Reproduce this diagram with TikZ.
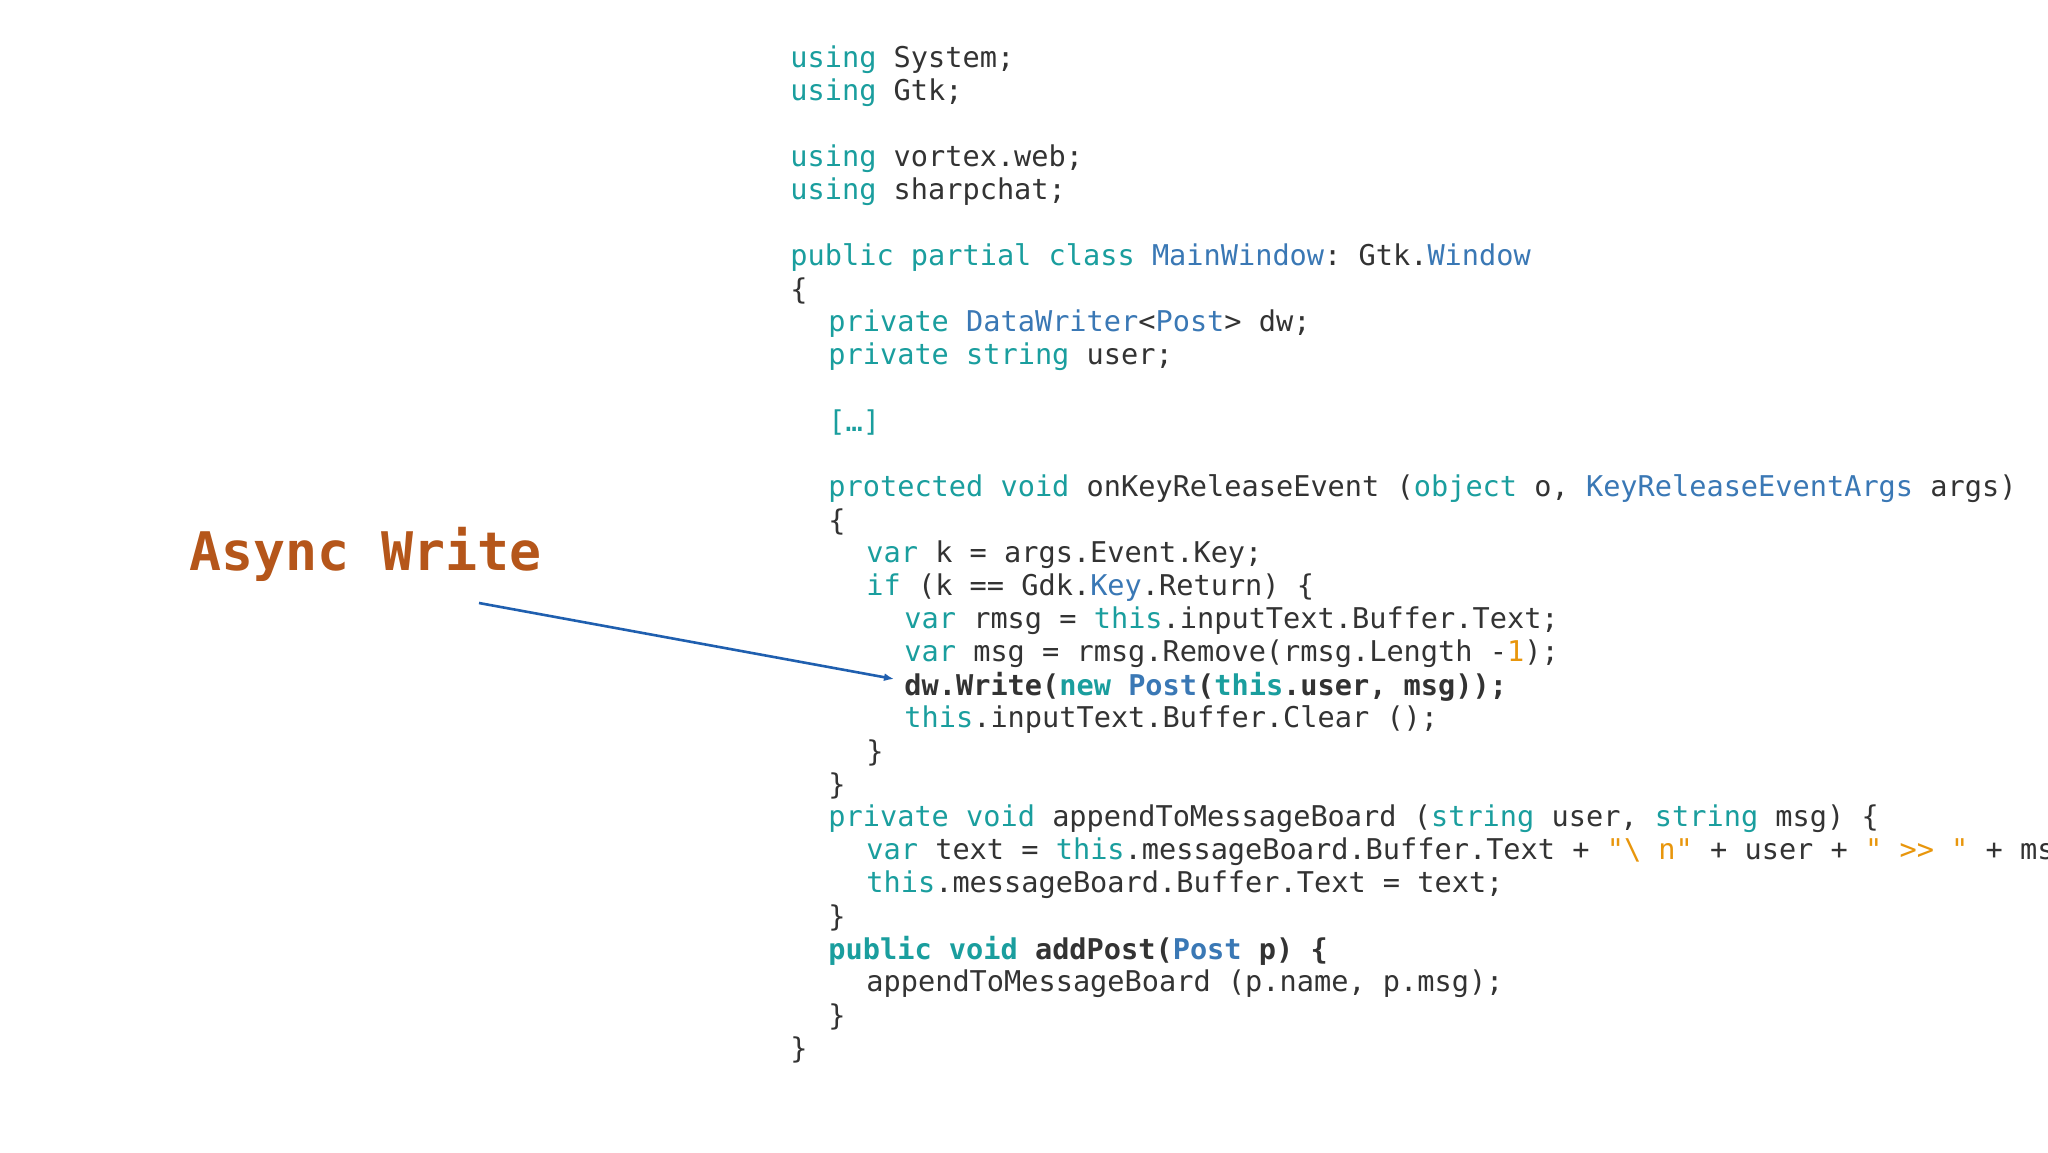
\documentclass[tikz,border=0pt]{standalone}
\usepackage{fontspec}
\usetikzlibrary{arrows.meta}
\setmainfont{DejaVu Sans Mono}
\setmonofont{DejaVu Sans Mono}
\definecolor{kw}{HTML}{1A9E9E}
\definecolor{ty}{HTML}{3A78B5}
\definecolor{tx}{HTML}{333333}
\definecolor{sr}{HTML}{E8960C}
\definecolor{ttl}{HTML}{B5561A}
\definecolor{arr}{HTML}{1F5FAF}
\newcommand{\kw}[1]{\textcolor{kw}{#1}}
\newcommand{\ty}[1]{\textcolor{ty}{#1}}
\newcommand{\sr}[1]{\textcolor{sr}{#1}}
\tikzset{cl/.style={anchor=west,inner sep=0pt,text=tx,font=\fontsize{14.3pt}{16pt}\selectfont\ttfamily}}
\newcommand{\cl}[4]{\node[cl] (#1) at ({790+#3*38},{-(60+#2*33)}) {#4};}
\begin{document}
\begin{tikzpicture}[x=0.5pt,y=0.5pt]
\useasboundingbox (0,0) rectangle (2048,-1152);
\clip (0,0) rectangle (2048,-1152);
\fill[white] (0,0) rectangle (2048,-1152);
\cl{l0}{0}{0}{\kw{using} System;}
\cl{l1}{1}{0}{\kw{using} Gtk;}
\cl{l3}{3}{0}{\kw{using} vortex.web;}
\cl{l4}{4}{0}{\kw{using} sharpchat;}
\cl{l6}{6}{0}{\kw{public partial class} \ty{MainWindow}: Gtk.\ty{Window}}
\cl{l7}{7}{0}{\{}
\cl{l8}{8}{1}{\kw{private} \ty{DataWriter}<\ty{Post}> dw;}
\cl{l9}{9}{1}{\kw{private string} user;}
\cl{l11}{11}{1}{\kw{[…]}}
\cl{l13}{13}{1}{\kw{protected void} onKeyReleaseEvent (\kw{object} o, \ty{KeyReleaseEventArgs} args)}
\cl{l14}{14}{1}{\{}
\cl{l15}{15}{2}{\kw{var} k = args.Event.Key;}
\cl{l16}{16}{2}{\kw{if} (k == Gdk.\ty{Key}.Return) \{}
\cl{l17}{17}{3}{\kw{var} rmsg = \kw{this}.inputText.Buffer.Text;}
\cl{l18}{18}{3}{\kw{var} msg = rmsg.Remove(rmsg.Length -\sr{1});}
\cl{l19}{19}{3}{\bfseries dw.Write(\kw{new} \ty{Post}(\kw{this}.user, msg));}
\cl{l20}{20}{3}{\kw{this}.inputText.Buffer.Clear ();}
\cl{l21}{21}{2}{\}}
\cl{l22}{22}{1}{\}}
\cl{l23}{23}{1}{\kw{private void} appendToMessageBoard (\kw{string} user, \kw{string} msg) \{}
\cl{l24}{24}{2}{\kw{var} text = \kw{this}.messageBoard.Buffer.Text + \sr{"\textbackslash{} n"} + user + \sr{" >> "} + msg;}
\cl{l25}{25}{2}{\kw{this}.messageBoard.Buffer.Text = text;}
\cl{l26}{26}{1}{\}}
\cl{l27}{27}{1}{\bfseries\kw{public void} addPost(\ty{Post} p) \{}
\cl{l28}{28}{2}{appendToMessageBoard (p.name, p.msg);}
\cl{l29}{29}{1}{\}}
\cl{l30}{30}{0}{\}}
\node[anchor=west,inner sep=0pt,text=ttl,font=\fontsize{26.6pt}{30pt}\selectfont\ttfamily\bfseries] (title) at (189,-554) {Async Write};
\coordinate (a0) at (479,-603);
\coordinate (a1) at ([xshift=-5pt,yshift=4pt]l19.west);
\draw[arr,line width=1.3pt,-{Latex[length=5pt,width=4pt]}] (a0) -- (a1);
\end{tikzpicture}
\end{document}
